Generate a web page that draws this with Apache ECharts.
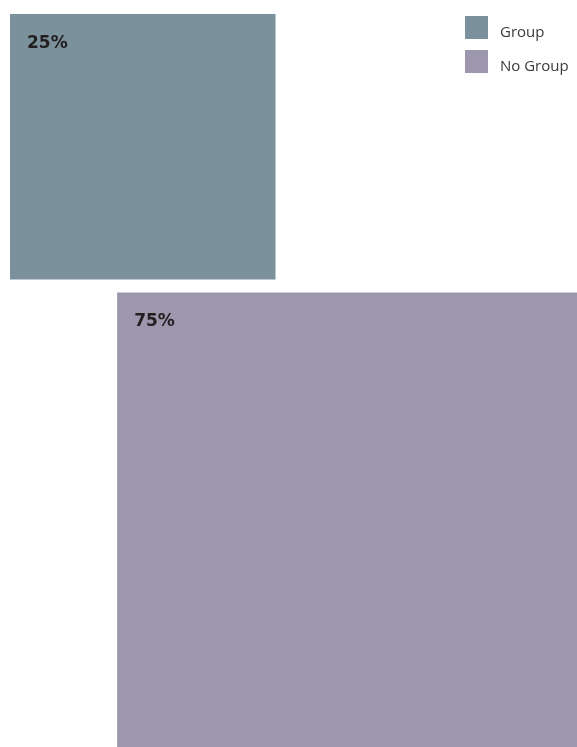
<!DOCTYPE html>
<html>
<head>
<meta charset="utf-8">
<script src="https://cdn.jsdelivr.net/npm/echarts@6/dist/echarts.min.js"></script>
<style>
html,body{margin:0;padding:0;background:#fff;}
#chart{width:577px;height:747px;}
</style>
</head>
<body>
<div id="chart"></div>
<script>
const categories = ['Group', 'No Group'];
const values = [25, 75];
const labels = ['25%', '75%'];
const colors = ['#7b919b', '#9c97ad'];

const UNIT = 531;           // px per data unit (side of a 100% square)
const GRID_W = 567, GRID_H = 733;
const X_MAX = GRID_W / UNIT, Y_MAX = GRID_H / UNIT;
const GAP = 13 / UNIT;

function sideOf(v) { return Math.sqrt(v / 100); }

function makeRender(idx) {
  return function (params, api) {
    const v = api.value(0);
    const side = sideOf(v);
    let x0, y0;
    if (idx === 0) { x0 = 0; y0 = 0; }
    else { x0 = X_MAX - side; y0 = sideOf(values[0]) + GAP; }
    const p0 = api.coord([x0, y0]);
    const p1 = api.coord([x0 + side, y0 + side]);
    return {
      type: 'group',
      children: [
        { type: 'rect', shape: { x: p0[0], y: p0[1], width: p1[0] - p0[0], height: p1[1] - p0[1] },
          style: { fill: colors[idx] } },
        { type: 'text', x: p0[0] + 17, y: p0[1] + 21,
          style: { text: labels[idx], fill: '#231f20', font: 'bold 17px "DejaVu Sans"',
                   align: 'left', verticalAlign: 'top' } }
      ]
    };
  };
}

const chart = echarts.init(document.getElementById('chart'), null, { renderer: 'canvas' });
chart.setOption({
  animation: false,
  backgroundColor: '#ffffff',
  grid: { left: 10, top: 14, width: GRID_W, height: GRID_H },
  xAxis: { type: 'value', min: 0, max: X_MAX, show: false },
  yAxis: { type: 'value', min: 0, max: Y_MAX, inverse: true, show: false },
  legend: {
    orient: 'vertical', left: 460, top: 11,
    itemWidth: 23, itemHeight: 23, itemGap: 10, icon: 'rect',
    data: categories,
    formatter: name => '{t|' + name + '}',
    textStyle: {
      fontFamily: 'Open Sans', fontSize: 15, color: '#3a3a3a',
      rich: { t: { fontFamily: 'Open Sans', fontSize: 15, color: '#3a3a3a', padding: [10, 0, 0, 7] } }
    }
  },
  series: categories.map((name, i) => ({
    type: 'custom', name: name, coordinateSystem: 'cartesian2d',
    itemStyle: { color: colors[i] },
    renderItem: makeRender(i),
    data: [[values[i]]],
    encode: { x: -1, y: -1 }
  }))
});
</script>
</body>
</html>
